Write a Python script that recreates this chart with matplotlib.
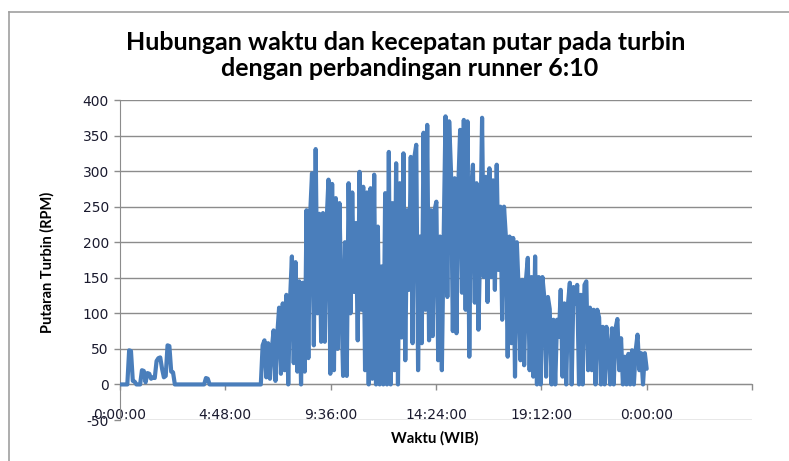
import numpy as np
import matplotlib
matplotlib.use("Agg")
import matplotlib.pyplot as plt
from matplotlib.lines import Line2D

plt.rcParams["axes.unicode_minus"] = False

# ---------------- data (RPM, one reading every 5 minutes, per hour) ----------------
h00 = [0, 0, 0, 0, 0, 48, 47, 5, 4, 0, 0, 0]
h01 = [20, 19, 3, 16, 15, 8, 10, 9, 33, 37, 38, 22]
h02 = [10, 12, 55, 54, 18, 17, 0, 0, 0, 0, 0, 0]
h03 = [0, 0, 0, 0, 0, 0, 0, 0, 0, 0, 0, 9]
h04 = [8, 0, 0, 0, 0, 0, 0, 0, 0, 0, 0, 0]
h05 = [0, 0, 0, 0, 0, 0, 0, 0, 0, 0, 0, 0]
h06 = [0, 0, 0, 0, 0, 0, 55, 62, 10, 58, 8, 50]
h07 = [76, 5, 70, 108, 15, 114, 20, 126, 0, 120, 180, 30]
h08 = [172, 18, 145, 0, 143, 18, 245, 37, 240, 297, 55, 331]
h09 = [100, 240, 60, 241, 60, 230, 288, 15, 282, 20, 262, 50]
h10 = [255, 120, 12, 200, 12, 283, 100, 270, 130, 227, 62, 299]
h11 = [105, 278, 20, 270, 0, 276, 8, 295, 0, 222, 0, 166]
h12 = [0, 269, 0, 327, 0, 255, 20, 311, 0, 283, 66, 325]
h13 = [34, 245, 133, 320, 58, 320, 337, 20, 208, 58, 354, 105]
h14 = [365, 62, 245, 68, 245, 257, 34, 208, 20, 208, 377, 123]
h15 = [370, 300, 75, 290, 72, 280, 358, 129, 372, 105, 370, 39]
h16 = [274, 309, 115, 283, 77, 200, 375, 151, 292, 116, 304, 151]
h17 = [287, 133, 309, 161, 250, 91, 250, 208, 39, 208, 58, 206]
h18 = [11, 200, 133, 34, 147, 27, 147, 178, 20, 151, 11, 180]
h19 = [0, 151, 0, 151, 123, 11, 123, 106, 0, 91, 0, 91]
h20 = [67, 133, 11, 114, 0, 114, 143, 0, 137, 114, 140, 0]
h21 = [126, 0, 140, 145, 20, 108, 20, 105, 0, 105, 94, 0]
h22 = [81, 0, 81, 48, 0, 79, 0, 79, 92, 20, 65, 0]
h23 = [39, 0, 43, 0, 48, 0, 48, 70, 20, 44, 0, 44]
h24 = [22]

hours = [h00, h01, h02, h03, h04, h05, h06, h07, h08, h09, h10, h11,
         h12, h13, h14, h15, h16, h17, h18, h19, h20, h21, h22, h23, h24]
rpm = [v for h in hours for v in h]
sample_minutes = 5
time_h = np.arange(len(rpm)) * sample_minutes / 60.0

x_ticks = [0, 4.8, 9.6, 14.4, 19.2, 24.0, 28.8]
x_labels = ["0:00:00", "4:48:00", "9:36:00", "14:24:00", "19:12:00", "0:00:00", ""]
y_ticks = [-50, 0, 50, 100, 150, 200, 250, 300, 350, 400]

title_1 = "Hubungan waktu dan kecepatan putar pada turbin"
title_2 = "dengan perbandingan runner 6:10"
xlabel = "Waktu (WIB)"
ylabel = "Putaran Turbin (RPM)"

# ---------------- figure ----------------
W, H = 789, 461
fig = plt.figure(figsize=(W / 100, H / 100), dpi=100)
fig.patch.set_facecolor("white")

left, right, top, bottom = 120, 752, 100, 420
ax = fig.add_axes([left / W, 1 - bottom / H, (right - left) / W, (bottom - top) / H])

grid_c = "#8c8c8c"
ax.set_xlim(0, 28.8)
ax.set_ylim(-50, 400)
ax.set_yticks(y_ticks)
ax.set_xticks(x_ticks)
ax.set_xticklabels(x_labels)
for y in y_ticks:
    ax.axhline(y, color=grid_c, lw=1.0, zorder=1)

ax.plot(time_h, rpm, color="#4a7ebb", lw=3.0, solid_joinstyle="round",
        solid_capstyle="round", zorder=3)

for s in ["top", "right"]:
    ax.spines[s].set_visible(False)
ax.spines["bottom"].set_position(("data", 0))
ax.spines["bottom"].set_color(grid_c)
ax.spines["left"].set_color(grid_c)
ax.spines["bottom"].set_zorder(2)

ax.tick_params(axis="x", direction="out", length=4, width=1, color=grid_c,
               pad=13, labelsize=10, labelcolor="#1a1a2e")
ax.tick_params(axis="y", direction="out", length=4, width=1, color=grid_c,
               pad=4, labelsize=10, labelcolor="#1a1a2e")
for lab in ax.get_xticklabels() + ax.get_yticklabels():
    lab.set_family("DejaVu Sans")

fig.text(406 / W, 1 - 42 / H, title_1, ha="center", va="center", fontsize=18,
         fontweight="bold", family="Lato", color="black")
fig.text(410 / W, 1 - 68 / H, title_2, ha="center", va="center", fontsize=18,
         fontweight="bold", family="Lato", color="black")
fig.text(435 / W, 1 - 438 / H, xlabel, ha="center", va="center", fontsize=10.8,
         fontweight="bold", family="Lato", color="black")
fig.text(47 / W, 1 - 262 / H, ylabel, ha="center", va="center", fontsize=10.5,
         fontweight="bold", family="Lato", rotation=90, color="black")

# chart-area border (top and left edges visible)
fig.add_artist(Line2D([9 / W, 1.0], [1 - 12 / H, 1 - 12 / H], color="#a0a0a0", lw=1.2,
                      transform=fig.transFigure))
fig.add_artist(Line2D([9 / W, 9 / W], [0, 1 - 12 / H], color="#a0a0a0", lw=1.2,
                      transform=fig.transFigure))

fig.savefig("out.png", dpi=100)
